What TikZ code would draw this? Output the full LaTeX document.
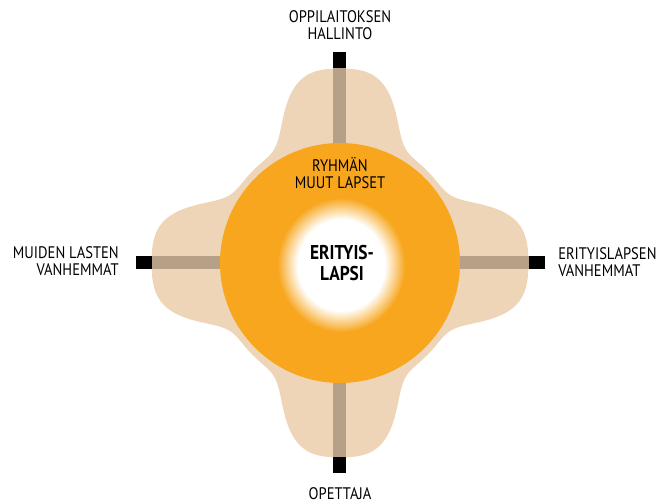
\documentclass[tikz,border=0pt]{standalone}
\usepackage{fontspec}
\setmainfont[FakeStretch=0.87]{PT Sans}

\definecolor{lobe}{RGB}{239,213,184}
\definecolor{spokebrown}{RGB}{182,160,136}
\definecolor{ring}{RGB}{247,166,30}

\pgfdeclareradialshading{glow}{\pgfpointorigin}{color(0bp)=(white); color(17bp)=(white); color(25bp)=(ring); color(50bp)=(ring)}

\tikzset{
  spoke/.style={line width=0.325cm, spokebrown},
  spokeend/.style={line width=0.325cm, black},
  outer/.style={inner sep=0pt, font=\fontsize{11.9}{12.1}\selectfont},
  inner/.style={inner sep=0pt, align=center, font=\fontsize{14.2}{15}\selectfont\bfseries}
}

\begin{document}
\begin{tikzpicture}
    \useasboundingbox (-8.5,-6.025) rectangle (7.975,6.575);

    % centre and spoke ends
    \coordinate (hub) at (0,0);
    \coordinate (topTip) at (0,4.875);
    \coordinate (topEnd) at (0,5.275);
    \coordinate (bottomTip) at (0,-4.85);
    \coordinate (bottomEnd) at (0,-5.25);
    \coordinate (leftTip) at (-4.7,0);
    \coordinate (leftEnd) at (-5.09,0);
    \coordinate (rightTip) at (4.725,0);
    \coordinate (rightEnd) at (5.125,0);

    % four-lobed background
    \begin{scope}[yscale=1.032]
        \fill[lobe] plot[domain=0:360, samples=361, variable=\t]
            (\t:{3.12+1.59*exp(-min(((abs(mod(\t+45,90)-45))/23)^3.6,9))}) -- cycle;
    \end{scope}

    % spokes
    \draw[spoke] (hub) -- (topTip);
    \draw[spoke] (hub) -- (bottomTip);
    \draw[spoke] (hub) -- (leftTip);
    \draw[spoke] (hub) -- (rightTip);
    \draw[spokeend] (topTip) -- (topEnd);
    \draw[spokeend] (bottomTip) -- (bottomEnd);
    \draw[spokeend] (leftTip) -- (leftEnd);
    \draw[spokeend] (rightTip) -- (rightEnd);

    % group circle
    \fill[ring] (hub) circle (3);
    \shade[shading=glow] (0.03,-0.05) ellipse (1.6 and 1.68);

    % labels
    \node[outer, align=center, anchor=north] (admin) at (0,6.325) {OPPILAITOKSEN\\HALLINTO};
    \node[outer, align=center, anchor=north] (teacher) at (0,-5.6) {OPETTAJA};
    \node[outer, align=right, anchor=north east] (others) at (-5.525,0.425) {MUIDEN LASTEN\\VANHEMMAT};
    \node[outer, align=left, anchor=north west] (parents) at (5.45,0.4) {ERITYISLAPSEN\\VANHEMMAT};
    \node[outer, align=center, anchor=north] (group) at (0,2.65) {RYHMÄN\\MUUT LAPSET};
    \node[inner, anchor=north] (child) at (0.05,0.45) {ERITYIS-\\LAPSI};
\end{tikzpicture}
\end{document}
